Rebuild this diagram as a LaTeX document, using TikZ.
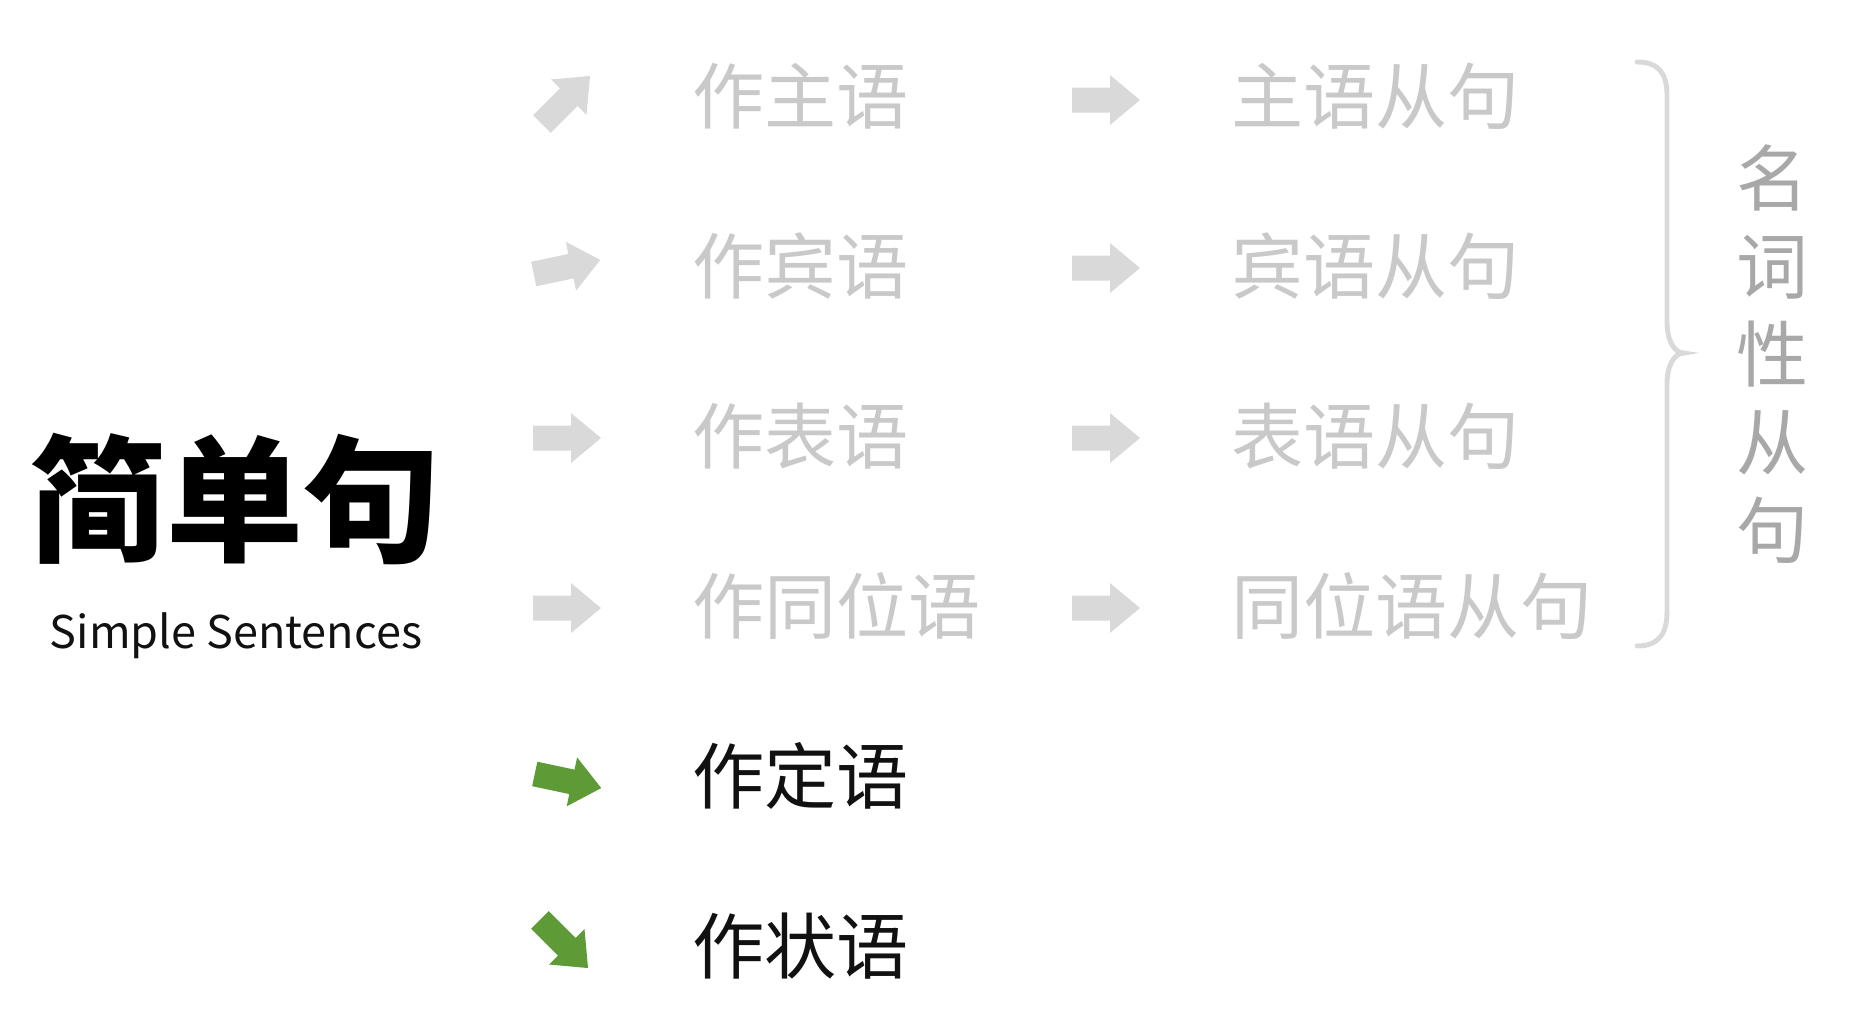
\documentclass[tikz,border=0pt]{standalone}
\usepackage{fontspec}
\newfontfamily\cjk{Noto Sans CJK SC}
\usepackage{tikz}
\usetikzlibrary{positioning}

\definecolor{fadegray}{HTML}{C9C9C9}
\definecolor{arrowgray}{HTML}{D9D9D9}
\definecolor{leafgreen}{HTML}{5E9B36}
\definecolor{bracegray}{HTML}{D9D9D9}
\definecolor{notegray}{HTML}{A8A8A8}
\definecolor{inkblack}{HTML}{111111}

\tikzset{
	pics/blockarr/.style={code={
		\fill[#1] (-34,-12.5) -- (4,-12.5) -- (4,-25) -- (34,0) -- (4,25) -- (4,12.5) -- (-34,12.5) -- cycle;
	}},
}

\begin{document}
\begin{tikzpicture}
	% Styles
	[
	x=0.01cm, y=-0.01cm,
	word/.style={font=\cjk\fontsize{20.5pt}{24pt}\selectfont, inner sep=0pt, anchor=west},
	faded/.style={word, text=fadegray},
	active/.style={word, text=inkblack},
	brace/.style={draw=bracegray, line width=1.4pt, line cap=round},
	]
	\useasboundingbox (0,0) rectangle (1856,1014);

	% Nodes
	\node at (235,499)	(title)	[font=\cjk\bfseries\fontsize{39pt}{44pt}\selectfont, inner sep=0pt] {简单句};
	\node at (236,636)	(subtitle)	[font=\cjk\fontsize{12.8pt}{16pt}\selectfont, inner sep=0pt, text=inkblack] {Simple Sentences};

	\node at (692,96)	(subj)	[faded] {作主语};
	\node at (692,266)	(obj)	[faded] {作宾语};
	\node at (692,436)	(pred)	[faded] {作表语};
	\node at (692,606)	(appos)	[faded] {作同位语};
	\node at (692,776)	(attr)	[active] {作定语};
	\node at (692,946)	(advl)	[active] {作状语};

	\node at (1231,96)	(subjcl)	[faded] {主语从句};
	\node at (1231,266)	(objcl)	[faded] {宾语从句};
	\node at (1231,436)	(predcl)	[faded] {表语从句};
	\node at (1231,606)	(apposcl)	[faded] {同位语从句};

	\node at (1773,354)	(nominal)	[font=\cjk\fontsize{20.5pt}{25pt}\selectfont, inner sep=0pt, align=center, text=notegray] {名\\词\\性\\从\\句};

	% Arrows
	\pic[rotate=45]	at (566,100)	{blockarr=arrowgray};
	\pic[rotate=12]	at (567,267)	{blockarr=arrowgray};
	\pic			at (567,438)	{blockarr=arrowgray};
	\pic			at (567,608)	{blockarr=arrowgray};
	\pic[rotate=-12]	at (568,781)	{blockarr=leafgreen};
	\pic[rotate=-45]	at (564,944)	{blockarr=leafgreen};

	\pic	at (1106,100)	{blockarr=arrowgray};
	\pic	at (1106,268)	{blockarr=arrowgray};
	\pic	at (1106,438)	{blockarr=arrowgray};
	\pic	at (1106,608)	{blockarr=arrowgray};

	% Brace
	\draw[brace] (1637,62) .. controls (1660,62) and (1667,75) .. (1667,95) -- (1667,322)
		.. controls (1667,340) and (1674,353) .. (1684,353)
		.. controls (1674,353) and (1667,366) .. (1667,384) -- (1667,612)
		.. controls (1667,632) and (1660,646) .. (1637,646);

\end{tikzpicture}
\end{document}
